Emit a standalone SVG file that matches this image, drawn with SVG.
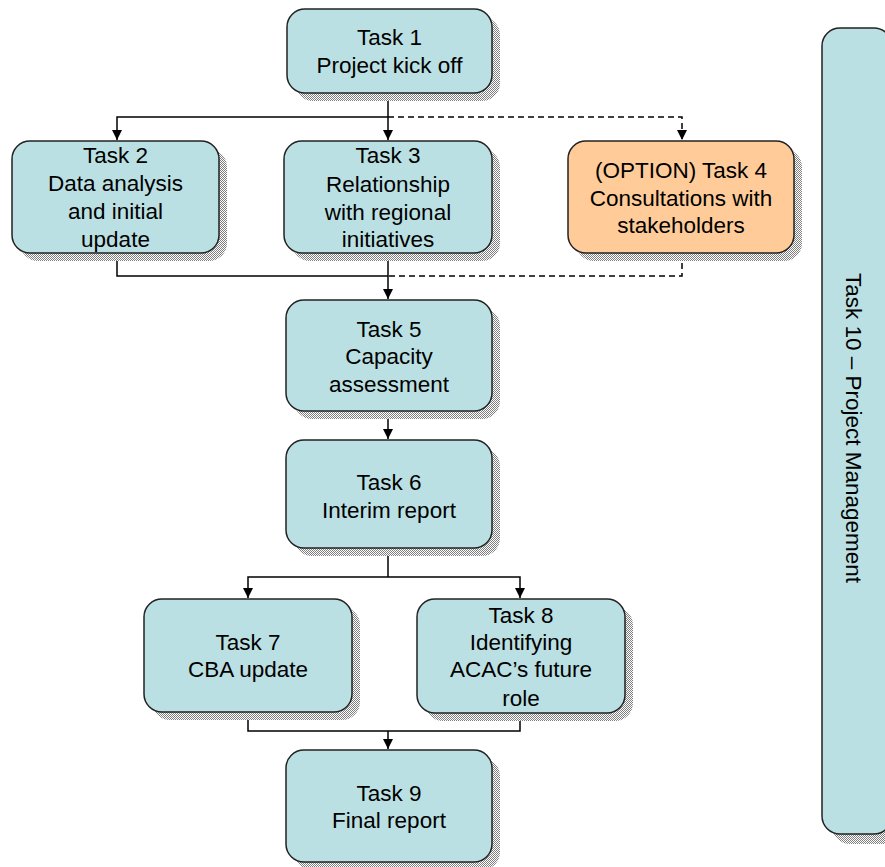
<svg xmlns="http://www.w3.org/2000/svg" width="885" height="867" viewBox="0 0 885 867">
<defs>
<pattern id="chk" width="2" height="2" patternUnits="userSpaceOnUse">
<rect width="2" height="2" fill="#ffffff"/>
<rect x="0" y="0" width="1" height="1" fill="#7f7f7f"/>
<rect x="1" y="1" width="1" height="1" fill="#7f7f7f"/>
</pattern>
<marker id="arr" viewBox="0 0 10 10" refX="10" refY="5" markerWidth="10" markerHeight="10" markerUnits="userSpaceOnUse" orient="auto">
<path d="M0,0 L10,5 L0,10 z" fill="#000"/>
</marker>
</defs>
<style>
.sh{fill:url(#chk);}
.box{fill:#BBE0E3;stroke:#222;stroke-width:1.5;}
.opt{fill:#FFCC99;stroke:#222;stroke-width:1.5;}
.t{font-family:"Liberation Sans",Arial,sans-serif;font-size:22.5px;fill:#000;text-anchor:middle;}
.c{fill:none;stroke:#000;stroke-width:1.5;}
.d{fill:none;stroke:#000;stroke-width:1.5;stroke-dasharray:6,4;}
</style>
<rect width="885" height="867" fill="#ffffff"/>

<g id="connectors">
<path class="c" d="M388,93 V140" marker-end="url(#arr)"/>
<path class="c" d="M388,117 H117 V140" marker-end="url(#arr)"/>
<path class="d" d="M388,117 H682 V140" marker-end="url(#arr)"/>
<path class="c" d="M117,253 V276 H388"/>
<path class="d" d="M682,253 V276 H388"/>
<path class="c" d="M388,253 V299" marker-end="url(#arr)"/>
<path class="c" d="M388,411 V439" marker-end="url(#arr)"/>
<path class="c" d="M388,548 V577"/>
<path class="c" d="M388,577 H248 V598" marker-end="url(#arr)"/>
<path class="c" d="M388,577 H520 V598" marker-end="url(#arr)"/>
<path class="c" d="M248,712 V731 H520 V713"/>
<path class="c" d="M388,731 V749" marker-end="url(#arr)"/>
</g>

<g id="task1">
<rect class="sh" x="295" y="17" width="205" height="84" rx="18"/>
<rect class="box" x="287" y="9" width="205" height="84" rx="18"/>
<text class="t" x="389.5" y="45">Task 1</text>
<text class="t" x="389.5" y="73">Project kick off</text>
</g>

<g id="task2">
<rect class="sh" x="20" y="149" width="207" height="112" rx="18"/>
<rect class="box" x="12" y="141" width="207" height="112" rx="18"/>
<text class="t" x="115.5" y="163">Task 2</text>
<text class="t" x="115.5" y="191">Data analysis</text>
<text class="t" x="115.5" y="219">and initial</text>
<text class="t" x="115.5" y="247">update</text>
</g>

<g id="task3">
<rect class="sh" x="292" y="149" width="208" height="112" rx="18"/>
<rect class="box" x="284" y="141" width="208" height="112" rx="18"/>
<text class="t" x="388" y="163">Task 3</text>
<text class="t" x="388" y="192">Relationship</text>
<text class="t" x="388" y="220">with regional</text>
<text class="t" x="388" y="247">initiatives</text>
</g>

<g id="task4">
<rect class="sh" x="576" y="149" width="226" height="112" rx="18"/>
<rect class="opt" x="568" y="141" width="226" height="112" rx="18"/>
<text class="t" x="681" y="178">(OPTION) Task 4</text>
<text class="t" x="681" y="205.5">Consultations with</text>
<text class="t" x="681" y="233">stakeholders</text>
</g>

<g id="task5">
<rect class="sh" x="294" y="308" width="206" height="111" rx="18"/>
<rect class="box" x="286" y="300" width="206" height="111" rx="18"/>
<text class="t" x="389" y="337">Task 5</text>
<text class="t" x="389" y="364">Capacity</text>
<text class="t" x="389" y="392">assessment</text>
</g>

<g id="task6">
<rect class="sh" x="294" y="448" width="206" height="108" rx="18"/>
<rect class="box" x="286" y="440" width="206" height="108" rx="18"/>
<text class="t" x="389" y="490">Task 6</text>
<text class="t" x="389" y="518">Interim report</text>
</g>

<g id="task7">
<rect class="sh" x="152" y="607" width="208" height="113" rx="18"/>
<rect class="box" x="144" y="599" width="208" height="113" rx="18"/>
<text class="t" x="248" y="650">Task 7</text>
<text class="t" x="248" y="677">CBA update</text>
</g>

<g id="task8">
<rect class="sh" x="425" y="607" width="208" height="114" rx="18"/>
<rect class="box" x="417" y="599" width="208" height="114" rx="18"/>
<text class="t" x="521" y="623">Task 8</text>
<text class="t" x="521" y="650">Identifying</text>
<text class="t" x="521" y="677">ACAC’s future</text>
<text class="t" x="521" y="706">role</text>
</g>

<g id="task9">
<rect class="sh" x="294" y="758" width="206" height="112" rx="18"/>
<rect class="box" x="286" y="750" width="206" height="112" rx="18"/>
<text class="t" x="389" y="801">Task 9</text>
<text class="t" x="389" y="828">Final report</text>
</g>

<g id="task10">
<rect class="sh" x="832" y="38" width="70" height="806" rx="18"/>
<rect class="box" x="822" y="28" width="70" height="806" rx="18"/>
<text class="t" x="0" y="0" dominant-baseline="central" transform="translate(853,428) rotate(90)">Task 10 – Project Management</text>
</g>
</svg>
